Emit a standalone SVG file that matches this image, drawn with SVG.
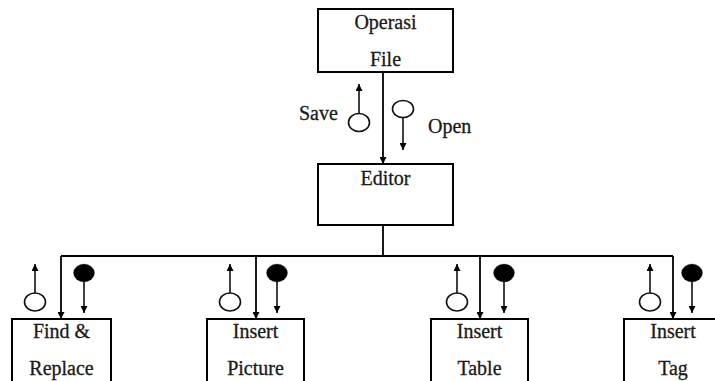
<svg xmlns="http://www.w3.org/2000/svg" width="715" height="381" viewBox="0 0 715 381">
<style>
.box{fill:#fff;stroke:#000;stroke-width:2}
.ln{fill:none;stroke:#000;stroke-width:1.8}
.tl{fill:none;stroke:#111;stroke-width:1.6}
.hc{fill:#fff;stroke:#111;stroke-width:1.6}
.fc{fill:#000}
</style>
<defs>
<marker id="ah" viewBox="0 0 10 10" refX="10" refY="5" markerWidth="7" markerHeight="7" markerUnits="userSpaceOnUse" orient="auto">
<path d="M0,0 L10,5 L0,10 Z" fill="#000"/>
</marker>
</defs>
<rect width="715" height="381" fill="#fff"/>

<g id="connectors">
<line class="ln" x1="383" y1="72" x2="383" y2="164" marker-end="url(#ah)"/>
<polyline class="ln" points="383,225 383,256"/>
<line class="ln" x1="61" y1="256" x2="673" y2="256"/>
<line class="ln" x1="61" y1="256" x2="61" y2="319" marker-end="url(#ah)"/>
<line class="ln" x1="256" y1="256" x2="256" y2="319" marker-end="url(#ah)"/>
<line class="ln" x1="480" y1="256" x2="480" y2="319" marker-end="url(#ah)"/>
<line class="ln" x1="673" y1="256" x2="673" y2="319" marker-end="url(#ah)"/>
</g>

<g font-family="Liberation Serif, Times New Roman, serif" font-size="20" fill="#1a1a1a" stroke="#1a1a1a" stroke-width="0.3">
<g id="flow-save">
<line class="tl" x1="359" y1="114" x2="359" y2="84" marker-end="url(#ah)"/>
<ellipse class="hc" cx="359" cy="122.5" rx="10.5" ry="9"/>
<text x="299" y="120">Save</text>
</g>
<g id="flow-open">
<ellipse class="hc" cx="403" cy="109" rx="10.5" ry="8.5"/>
<line class="tl" x1="403" y1="117.5" x2="403" y2="150" marker-end="url(#ah)"/>
<text x="428" y="133">Open</text>
</g>

<g id="node-operasi-file" text-anchor="middle">
<rect class="box" x="318" y="9" width="135" height="63"/>
<text x="385.5" y="29">Operasi</text>
<text x="385.5" y="66">File</text>
</g>

<g id="node-editor" text-anchor="middle">
<rect class="box" x="318" y="164" width="135" height="61"/>
<text x="385.5" y="185">Editor</text>
</g>

<g id="flows-find">
<line class="tl" x1="35" y1="293" x2="35" y2="264" marker-end="url(#ah)"/>
<ellipse class="hc" cx="35" cy="302" rx="10.5" ry="9"/>
<ellipse class="fc" cx="84" cy="273" rx="10.5" ry="9"/>
<line class="tl" x1="84" y1="280" x2="84" y2="313" marker-end="url(#ah)"/>
</g>
<g id="flows-picture">
<line class="tl" x1="230" y1="293" x2="230" y2="264" marker-end="url(#ah)"/>
<ellipse class="hc" cx="230" cy="302" rx="10.5" ry="9"/>
<ellipse class="fc" cx="277" cy="273" rx="10.5" ry="9"/>
<line class="tl" x1="277" y1="280" x2="277" y2="313" marker-end="url(#ah)"/>
</g>
<g id="flows-table">
<line class="tl" x1="457" y1="293" x2="457" y2="264" marker-end="url(#ah)"/>
<ellipse class="hc" cx="457" cy="302" rx="10.5" ry="9"/>
<ellipse class="fc" cx="504" cy="273" rx="10.5" ry="9"/>
<line class="tl" x1="504" y1="280" x2="504" y2="313" marker-end="url(#ah)"/>
</g>
<g id="flows-tag">
<line class="tl" x1="650" y1="293" x2="650" y2="264" marker-end="url(#ah)"/>
<ellipse class="hc" cx="650" cy="302" rx="10.5" ry="9"/>
<ellipse class="fc" cx="692" cy="273" rx="10.5" ry="9"/>
<line class="tl" x1="692" y1="280" x2="692" y2="313" marker-end="url(#ah)"/>
</g>

<g id="node-find-replace" text-anchor="middle">
<rect class="box" x="12" y="319" width="99" height="70"/>
<text x="61.5" y="338">Find &amp;</text>
<text x="61.5" y="375">Replace</text>
</g>
<g id="node-insert-picture" text-anchor="middle">
<rect class="box" x="207" y="319" width="97" height="70"/>
<text x="255.5" y="338">Insert</text>
<text x="255.5" y="375">Picture</text>
</g>
<g id="node-insert-table" text-anchor="middle">
<rect class="box" x="431" y="319" width="97" height="70"/>
<text x="479.5" y="338">Insert</text>
<text x="479.5" y="375">Table</text>
</g>
<g id="node-insert-tag" text-anchor="middle">
<rect class="box" x="624" y="319" width="97" height="70"/>
<text x="673" y="338">Insert</text>
<text x="673" y="375">Tag</text>
</g>
</g>
</svg>
